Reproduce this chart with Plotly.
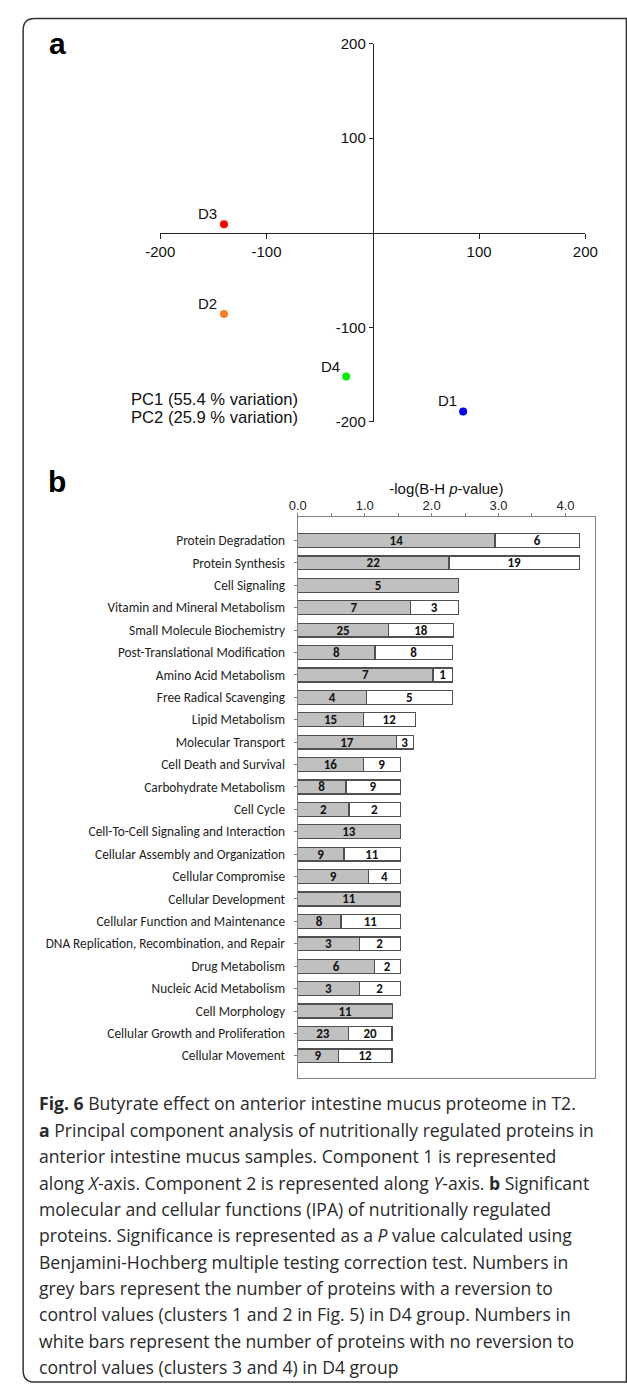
import plotly.graph_objects as go

W, H = 627, 1393

# ---------------- data: panel a (PCA) ----------------
pca_labels = ["D3", "D2", "D4", "D1"]
pca_pc1 = [-140, -140, -25, 85]
pca_pc2 = [9, -86, -152, -189]
pca_colors = ["#ff0000", "#ff7f27", "#00ee00", "#0000ff"]
pca_ticks = [-200, -100, 100, 200]
pca_tick_text = ["-200", "-100", "100", "200"]
pca_note = ["PC1 (55.4 % variation)", "PC2 (25.9 % variation)"]

# ---------------- data: panel b (IPA functions) ----------------
functions = [
    "Protein Degradation", "Protein Synthesis", "Cell Signaling",
    "Vitamin and Mineral Metabolism", "Small Molecule Biochemistry",
    "Post-Translational Modification", "Amino Acid Metabolism",
    "Free Radical Scavenging", "Lipid Metabolism", "Molecular Transport",
    "Cell Death and Survival", "Carbohydrate Metabolism", "Cell Cycle",
    "Cell-To-Cell Signaling and Interaction", "Cellular Assembly and Organization",
    "Cellular Compromise", "Cellular Development", "Cellular Function and Maintenance",
    "DNA Replication, Recombination, and Repair", "Drug Metabolism",
    "Nucleic Acid Metabolism", "Cell Morphology", "Cellular Growth and Proliferation",
    "Cellular Movement",
]
neg_log_p = [4.21, 4.21, 2.40, 2.40, 2.33, 2.31, 2.31, 2.31, 1.76, 1.73,
             1.53, 1.53, 1.53, 1.53, 1.53, 1.53, 1.53, 1.53, 1.53, 1.53,
             1.53, 1.42, 1.41, 1.41]
n_reverted = [14, 22, 5, 7, 25, 8, 7, 4, 15, 17, 16, 8, 2, 13, 9, 9, 11, 8, 3, 6, 3, 11, 23, 9]
n_not_reverted = [6, 19, 0, 3, 18, 8, 1, 5, 12, 3, 9, 9, 2, 0, 11, 4, 0, 11, 2, 2, 2, 0, 20, 12]
b_tick_vals = [0, 1, 2, 3, 4]
b_tick_text = ["0.0", "1.0", "2.0", "3.0", "4.0"]

caption_lines = [
    "<b>Fig. 6</b> Butyrate effect on anterior intestine mucus proteome in T2.",
    "<b>a</b> Principal component analysis of nutritionally regulated proteins in",
    "anterior intestine mucus samples. Component 1 is represented",
    "along <i>X</i>-axis. Component 2 is represented along <i>Y</i>-axis. <b>b</b> Significant",
    "molecular and cellular functions (IPA) of nutritionally regulated",
    "proteins. Significance is represented as a <i>P</i> value calculated using",
    "Benjamini-Hochberg multiple testing correction test. Numbers in",
    "grey bars represent the number of proteins with a reversion to",
    "control values (clusters 1 and 2 in Fig. 5) in D4 group. Numbers in",
    "white bars represent the number of proteins with no reversion to",
    "control values (clusters 3 and 4) in D4 group",
]

# split each bar proportionally to the protein counts
gray_len = [t * g / (g + w) for t, g, w in zip(neg_log_p, n_reverted, n_not_reverted)]
white_len = [t - g for t, g in zip(neg_log_p, gray_len)]
white_txt = [str(w) if w else "" for w in n_not_reverted]


def fx(px):
    return px / W


def fy(px):
    return 1 - px / H


ARIAL = "Liberation Sans, Arial, sans-serif"
CALIBRI = "Carlito, Lato, sans-serif"
CAPTION = "Open Sans, Noto Sans, sans-serif"

fig = go.Figure()

fig.add_trace(go.Scatter(
    x=pca_pc1, y=pca_pc2, mode="markers",
    marker=dict(size=8, color=pca_colors),
    xaxis="x", yaxis="y", showlegend=False, cliponaxis=False,
))

fig.add_trace(go.Bar(
    y=functions, x=gray_len, orientation="h", text=[str(v) for v in n_reverted],
    textposition="inside", insidetextanchor="middle", textangle=0,
    constraintext="none",
    textfont=dict(family=CALIBRI, size=13, color="#111", weight="bold"),
    marker=dict(color="#c0c0c0", line=dict(color="#505050", width=1.3)),
    xaxis="x2", yaxis="y2", showlegend=False,
))
fig.add_trace(go.Bar(
    y=functions, x=white_len, orientation="h", text=white_txt,
    textposition="inside", insidetextanchor="middle", textangle=0,
    constraintext="none",
    textfont=dict(family=CALIBRI, size=13, color="#111", weight="bold"),
    marker=dict(color="#ffffff", line=dict(color="#505050", width=1.3)),
    xaxis="x2", yaxis="y2", showlegend=False,
))

ax_dom = [fx(152), fx(597)]
ay_dom = [fy(418), fy(35)]
x_pos = ay_dom[0] + (0 - (-200)) / 400 * (ay_dom[1] - ay_dom[0])
y_pos = ax_dom[0] + (0 - (-200)) / 400 * (ax_dom[1] - ax_dom[0])

fig.update_layout(
    width=W, height=H, margin=dict(l=0, r=0, t=0, b=0),
    paper_bgcolor="white", plot_bgcolor="rgba(0,0,0,0)",
    barmode="stack", bargap=0.38,
    xaxis=dict(domain=ax_dom, range=[-200, 200], anchor="free", position=x_pos,
               showgrid=False, zeroline=False, showline=True, linecolor="#222", linewidth=1,
               ticks="outside", ticklen=5, tickcolor="#222",
               tickvals=pca_ticks, ticktext=pca_tick_text,
               tickfont=dict(family=ARIAL, size=15, color="#111")),
    yaxis=dict(domain=ay_dom, range=[-200, 200], anchor="free", position=y_pos,
               showgrid=False, zeroline=False, showline=True, linecolor="#222", linewidth=1,
               ticks="outside", ticklen=4, tickcolor="#222",
               tickvals=pca_ticks, ticktext=pca_tick_text,
               tickfont=dict(family=ARIAL, size=15, color="#111")),
    xaxis2=dict(domain=[fx(296), fx(607)], range=[0, 4.44], anchor="y2", side="top",
                showgrid=False, zeroline=False, showline=True, mirror=True,
                linecolor="#808080", linewidth=1.2,
                tickvals=b_tick_vals, ticktext=b_tick_text,
                ticks="outside", ticklen=3, tickcolor="#808080",
                minor=dict(dtick=0.5, ticks="outside", ticklen=3, tickcolor="#808080"),
                ticklabelstandoff=-3,
                tickfont=dict(family=ARIAL, size=13, color="#222"),
                title=dict(text="-log(B-H <i>p</i>-value)", standoff=0,
                           font=dict(family=ARIAL, size=15, color="#111"))),
    yaxis2=dict(domain=[fy(1082), fy(514)], range=[23.98, -1.06], anchor="x2",
                type="category", categoryorder="array", categoryarray=functions,
                showgrid=False, zeroline=False, showline=True, mirror=True,
                linecolor="#808080", linewidth=1.2,
                ticks="outside", ticklen=3, tickcolor="#808080", ticklabelstandoff=6,
                tickfont=dict(family=CALIBRI, size=13.3, color="#1e1e1e")),
)

ann = []
# point labels, offset up-left of each marker
for lab, px_, py_ in zip(pca_labels, pca_pc1, pca_pc2):
    ann.append(dict(text=lab, x=px_, y=py_, xref="x", yref="y", showarrow=False,
                    xanchor="center", yanchor="middle", xshift=-16, yshift=10.5,
                    font=dict(family=ARIAL, size=15, color="#111")))
ann.append(dict(text="<b>a</b>", x=fx(44), y=fy(35), xref="paper", yref="paper",
                showarrow=False, xanchor="center", yanchor="middle",
                font=dict(family=ARIAL, size=30, color="#000")))
ann.append(dict(text="<b>b</b>", x=fx(44), y=fy(478), xref="paper", yref="paper",
                showarrow=False, xanchor="center", yanchor="middle",
                font=dict(family=ARIAL, size=30, color="#000")))
for i, line in enumerate(pca_note):
    ann.append(dict(text=line, x=fx(119), y=fy(395 + 18.5 * i), xref="paper", yref="paper",
                    showarrow=False, xanchor="left", yanchor="middle",
                    font=dict(family=ARIAL, size=16.6, color="#111")))
for i, line in enumerate(caption_lines):
    ann.append(dict(text=line, x=fx(23), y=fy(1108 + 26.7 * i), xref="paper", yref="paper",
                    showarrow=False, xanchor="left", yanchor="middle",
                    font=dict(family=CAPTION, size=17.6, color="#2a2a2a")))
fig.update_layout(annotations=ann)

# rounded outer frame (right edge runs off the page)
r = 12
L, T, R, B = 8.5, 9.5, 640, 1390
path = (f"M {fx(L)},{fy(T + r)} Q {fx(L)},{fy(T)} {fx(L + r)},{fy(T)} "
        f"L {fx(R)},{fy(T)} L {fx(R)},{fy(B)} L {fx(L + r)},{fy(B)} "
        f"Q {fx(L)},{fy(B)} {fx(L)},{fy(B - r)} Z")
fig.add_shape(type="path", path=path, xref="paper", yref="paper",
              line=dict(color="#333", width=1.5), fillcolor="rgba(0,0,0,0)")

fig.write_html("out.html")
